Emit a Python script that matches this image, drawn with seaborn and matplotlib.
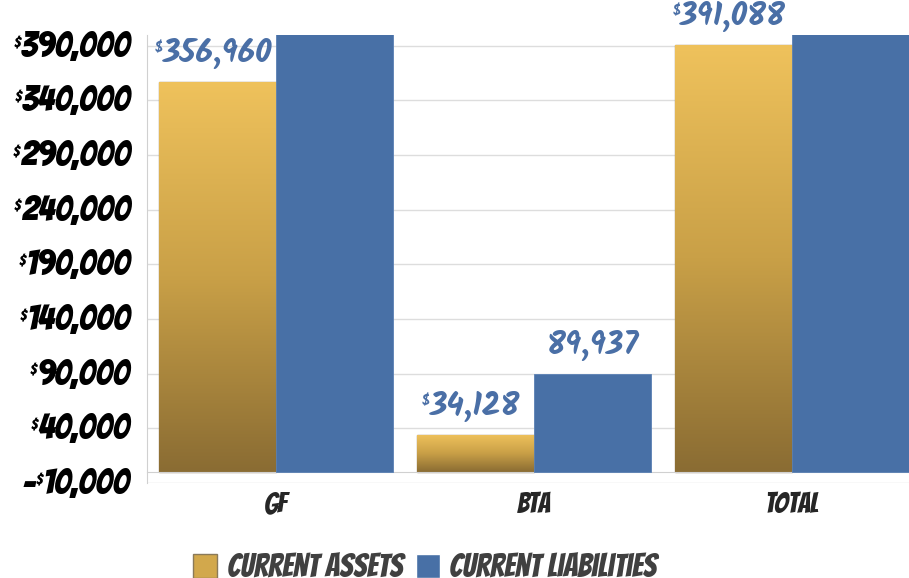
import numpy as np
import pandas as pd
import matplotlib
matplotlib.use('Agg')
import matplotlib.pyplot as plt
import matplotlib.transforms as mtrans
import seaborn as sns
from matplotlib.patches import Patch
from matplotlib.colors import LinearSegmentedColormap

# podaci
categories = ['GF', 'BTA', 'Total']
series = ['Current Assets', 'Current Liabilities']
assets = [356960, 34128, 391088]
liabilities = [420000, 89937, 460000]   # GF i Total izlaze van grafika
asset_labels = ['356,960', '34,128', '391,088']
liab_labels = ['', '89,937', '']
y_ticks = list(range(-10000, 390001, 50000))

df = pd.DataFrame({
    'cat': categories * 2,
    'series': [series[0]] * 3 + [series[1]] * 3,
    'value': assets + liabilities,
})

sns.set_style('white')
marker = ['Bangers', 'Permanent Marker', 'DejaVu Sans']
hand = ['Kalam', 'DejaVu Sans']
plt.rcParams['font.family'] = marker

gold = '#D2A84C'
blue = '#4870A6'
lblue = '#4A6FA6'

fig = plt.figure(figsize=(9.09, 5.78), dpi=100)
# desni rub grafa izlazi malo van slike, kao u originalu
ax = fig.add_axes([0.1617, 0.1644, 0.8515, 0.7752])

sns.barplot(data=df, x='cat', y='value', hue='series', palette=[gold, blue],
            width=0.91, gap=0, ax=ax, legend=False, saturation=1)

# gradijent na zlatnim stupcima
cmap = LinearSegmentedColormap.from_list('g', ['#8A6C33', '#C9A047', '#EFC25C'])
grad = np.linspace(0, 1, 256).reshape(-1, 1)
for p in ax.containers[0]:
    x0, y0 = p.get_x(), p.get_y()
    w, h = p.get_width(), p.get_height()
    im = ax.imshow(grad, cmap=cmap, origin='lower', aspect='auto',
                   extent=[x0, x0 + w, y0, y0 + h], zorder=2)
    im.set_clip_path(p)
    p.set_edgecolor('#9A8866')
    p.set_linewidth(1)
    p.set_zorder(2)
for p in ax.containers[1]:
    p.set_edgecolor('#5A80B4')
    p.set_linewidth(0.6)
    p.set_zorder(3)
ax.set_xlim(-0.5, 2.5)
ax.set_ylim(-10000, 400000)

# oznake vrijednosti (mali $ ispred)
def value_label(x, y, s, dollar):
    t = ax.text(x, y, s, ha='center', va='bottom', color=lblue, fontsize=23,
                family=hand, fontweight='bold')
    if dollar:
        ax.annotate('$', xy=(0, 0.88), xycoords=t, ha='right', va='top',
                    color=lblue, fontsize=10, family=hand, fontweight='bold')

for p, s in zip(ax.containers[0], asset_labels):
    value_label(p.get_x() + p.get_width() / 2, p.get_height() + 11000, s, True)
for p, s in zip(ax.containers[1], liab_labels):
    if s and p.get_height() < 400000:
        value_label(p.get_x() + p.get_width() / 2, p.get_height() + 11000, s, False)

# y os - rucne oznake
ax.set_yticks(y_ticks)
ax.set_yticklabels([])
ax.tick_params(axis='y', length=5, color='#D0D0D0', width=1)
trans = mtrans.blended_transform_factory(ax.transAxes, ax.transData)
for v in y_ticks:
    t = ax.text(-0.022, v, f'{abs(v):,}', transform=trans, ha='right', va='center',
                fontsize=26, color='black')
    ax.annotate('$', xy=(0, 0.85), xycoords=t, ha='right', va='top',
                fontsize=11, color='black')
    if v < 0:
        ax.annotate('-', xy=(0, 0.5), xycoords=t, xytext=(-6, 0),
                    textcoords='offset points', ha='right', va='center',
                    fontsize=26, color='black')
ax.grid(axis='y', color='#DDDDDD', linewidth=1)
ax.set_axisbelow(True)

# x os
ax.set_xticks([0, 1, 2])
ax.set_xticklabels(categories)
ax.set_xticks([0.5, 1.5], minor=True)
ax.tick_params(axis='x', which='major', length=0, pad=14, labelsize=20)
ax.tick_params(axis='x', which='minor', length=9, color='#D0D0D0', direction='out')
ax.spines['bottom'].set_position(('data', 0))
ax.spines['bottom'].set_color('#D0D0D0')
ax.spines['left'].set_color('#D0D0D0')
ax.spines['top'].set_visible(False)
ax.spines['right'].set_visible(False)
ax.set_xlabel('')
ax.set_ylabel('')

handles = [Patch(facecolor=gold, edgecolor='#8A7A5A'), Patch(facecolor=blue)]
leg = fig.legend(handles, series, loc='center', ncol=2,
                 bbox_to_anchor=(0.4675, 0.0225), frameon=False,
                 handlelength=0.75, handleheight=0.75, handletextpad=0.3, columnspacing=0.4,
                 prop={'family': marker, 'size': 23})
for t in leg.get_texts():
    t.set_color('#404040')

fig.savefig('out.png', dpi=100)
